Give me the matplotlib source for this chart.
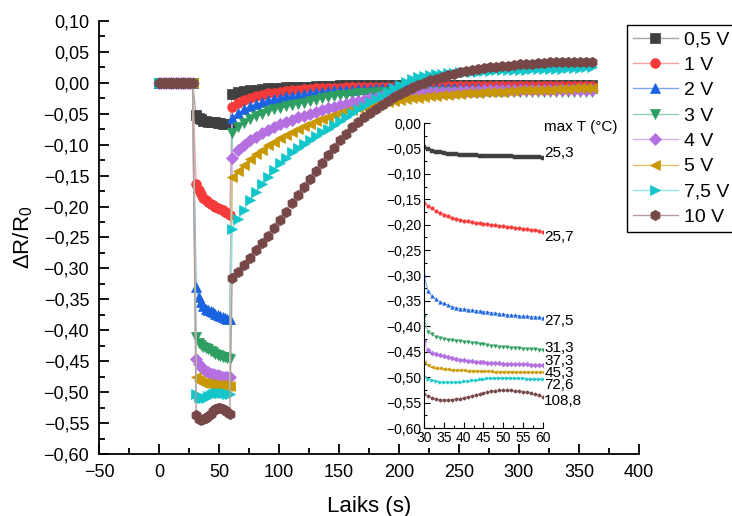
import matplotlib
matplotlib.use("Agg")
import matplotlib.pyplot as plt
from matplotlib.ticker import MultipleLocator, FuncFormatter

plt.rcParams['font.family'] = ['Liberation Sans', 'DejaVu Sans']
plt.rcParams['mathtext.fontset'] = 'custom'
plt.rcParams['mathtext.rm'] = 'Liberation Sans'
plt.rcParams['mathtext.it'] = 'Liberation Sans:italic'

# time grids (s)
base_t = list(range(0, 29, 2))
heat_t = list(range(30, 61))
rec_t = list(range(61, 362, 5))

volt_labels = ['0,5 V', '1 V', '2 V', '3 V', '4 V', '5 V', '7,5 V', '10 V']
temp_labels = ['25,3', '25,7', '27,5', '31,3', '37,3', '45,3', '72,6', '108,8']
temp_label_y = [-0.059, -0.224, -0.390, -0.443, -0.469, -0.492, -0.516, -0.547]

base_v = [0.0] * len(base_t)

heat_05 = [-0.048, -0.052, -0.055, -0.057, -0.058, -0.059, -0.060, -0.061, -0.061, -0.062,
           -0.062, -0.063, -0.063, -0.063, -0.064, -0.064, -0.064, -0.064, -0.065, -0.065,
           -0.065, -0.065, -0.065, -0.066, -0.066, -0.066, -0.066, -0.067, -0.067, -0.067,
           -0.068]
heat_1 = [-0.157, -0.163, -0.168, -0.173, -0.177, -0.180, -0.183, -0.186, -0.188, -0.190,
          -0.192, -0.193, -0.195, -0.196, -0.197, -0.198, -0.199, -0.200, -0.201, -0.202,
          -0.203, -0.204, -0.205, -0.206, -0.207, -0.208, -0.209, -0.210, -0.211, -0.213,
          -0.214]
heat_2 = [-0.299, -0.330, -0.340, -0.347, -0.352, -0.355, -0.358, -0.361, -0.363, -0.365,
          -0.366, -0.367, -0.368, -0.369, -0.370, -0.371, -0.372, -0.373, -0.374, -0.375,
          -0.376, -0.377, -0.378, -0.378, -0.379, -0.380, -0.380, -0.381, -0.381, -0.382,
          -0.383]
heat_3 = [-0.381, -0.411, -0.416, -0.420, -0.422, -0.424, -0.426, -0.427, -0.428, -0.429,
          -0.430, -0.431, -0.432, -0.433, -0.434, -0.435, -0.437, -0.438, -0.439, -0.440,
          -0.441, -0.441, -0.442, -0.443, -0.443, -0.444, -0.444, -0.445, -0.445, -0.446,
          -0.447]
heat_4 = [-0.428, -0.447, -0.452, -0.455, -0.457, -0.459, -0.461, -0.463, -0.464, -0.466,
          -0.467, -0.468, -0.469, -0.470, -0.470, -0.471, -0.472, -0.472, -0.473, -0.473,
          -0.474, -0.474, -0.474, -0.475, -0.475, -0.475, -0.475, -0.476, -0.476, -0.476,
          -0.476]
heat_5 = [-0.470, -0.476, -0.479, -0.481, -0.482, -0.483, -0.484, -0.485, -0.485, -0.486,
          -0.486, -0.487, -0.487, -0.487, -0.488, -0.488, -0.488, -0.488, -0.489, -0.489,
          -0.489, -0.489, -0.489, -0.489, -0.490, -0.490, -0.490, -0.490, -0.490, -0.490,
          -0.490]
heat_75 = [-0.498, -0.503, -0.506, -0.508, -0.509, -0.510, -0.510, -0.510, -0.510, -0.509,
           -0.508, -0.507, -0.506, -0.505, -0.504, -0.503, -0.502, -0.502, -0.501, -0.501,
           -0.501, -0.501, -0.501, -0.502, -0.502, -0.502, -0.503, -0.503, -0.503, -0.503,
           -0.504]
heat_10 = [-0.533, -0.537, -0.541, -0.543, -0.544, -0.545, -0.545, -0.544, -0.543, -0.542,
           -0.541, -0.539, -0.537, -0.535, -0.533, -0.531, -0.529, -0.528, -0.527, -0.526,
           -0.526, -0.526, -0.526, -0.527, -0.528, -0.529, -0.530, -0.532, -0.534, -0.536,
           -0.539]

rec_05 = [-0.018, -0.015, -0.013, -0.012, -0.011, -0.010, -0.009, -0.008, -0.008, -0.007,
          -0.007, -0.006, -0.006, -0.006, -0.005, -0.005, -0.005, -0.005, -0.004, -0.004,
          -0.004, -0.004, -0.004, -0.003, -0.003, -0.003, -0.003, -0.003, -0.003, -0.003,
          -0.003, -0.003, -0.003, -0.003, -0.003, -0.003, -0.003, -0.003, -0.003, -0.003,
          -0.003, -0.003, -0.003, -0.003, -0.003, -0.003, -0.003, -0.003, -0.003, -0.003,
          -0.003, -0.003, -0.003, -0.003, -0.003, -0.003, -0.003, -0.003, -0.003, -0.003,
          -0.003]
rec_1 = [-0.039, -0.032, -0.027, -0.024, -0.021, -0.019, -0.017, -0.016, -0.014, -0.013,
         -0.012, -0.011, -0.010, -0.010, -0.009, -0.009, -0.008, -0.008, -0.008, -0.007,
         -0.007, -0.007, -0.007, -0.006, -0.006, -0.006, -0.006, -0.006, -0.006, -0.006,
         -0.006, -0.005, -0.005, -0.005, -0.005, -0.005, -0.005, -0.005, -0.005, -0.005,
         -0.005, -0.005, -0.005, -0.005, -0.005, -0.005, -0.005, -0.005, -0.005, -0.005,
         -0.005, -0.005, -0.005, -0.005, -0.005, -0.005, -0.005, -0.005, -0.005, -0.005,
         -0.005]
rec_2 = [-0.057, -0.049, -0.043, -0.038, -0.034, -0.031, -0.028, -0.026, -0.024, -0.022,
         -0.021, -0.019, -0.018, -0.016, -0.015, -0.014, -0.013, -0.012, -0.012, -0.011,
         -0.011, -0.010, -0.010, -0.010, -0.009, -0.009, -0.009, -0.009, -0.009, -0.009,
         -0.009, -0.009, -0.009, -0.009, -0.009, -0.009, -0.009, -0.009, -0.009, -0.009,
         -0.009, -0.009, -0.009, -0.009, -0.009, -0.009, -0.009, -0.009, -0.009, -0.009,
         -0.009, -0.009, -0.009, -0.009, -0.009, -0.009, -0.009, -0.009, -0.009, -0.009,
         -0.009]
rec_3 = [-0.081, -0.072, -0.065, -0.059, -0.054, -0.050, -0.046, -0.043, -0.040, -0.038,
         -0.036, -0.034, -0.032, -0.029, -0.027, -0.025, -0.023, -0.022, -0.020, -0.019,
         -0.018, -0.017, -0.016, -0.016, -0.015, -0.015, -0.015, -0.015, -0.015, -0.015,
         -0.015, -0.015, -0.015, -0.015, -0.015, -0.015, -0.015, -0.015, -0.015, -0.015,
         -0.015, -0.015, -0.015, -0.015, -0.015, -0.015, -0.015, -0.015, -0.015, -0.015,
         -0.015, -0.015, -0.015, -0.015, -0.015, -0.015, -0.015, -0.015, -0.015, -0.015,
         -0.015]
rec_4 = [-0.121, -0.109, -0.100, -0.093, -0.087, -0.081, -0.076, -0.071, -0.067, -0.063,
         -0.060, -0.056, -0.053, -0.050, -0.047, -0.044, -0.041, -0.039, -0.036, -0.034,
         -0.031, -0.029, -0.027, -0.025, -0.024, -0.022, -0.021, -0.020, -0.019, -0.018,
         -0.017, -0.016, -0.016, -0.015, -0.015, -0.014, -0.014, -0.014, -0.013, -0.013,
         -0.013, -0.013, -0.012, -0.012, -0.012, -0.012, -0.012, -0.012, -0.011, -0.011,
         -0.011, -0.011, -0.011, -0.011, -0.011, -0.011, -0.011, -0.011, -0.011, -0.011,
         -0.011]
rec_5 = [-0.153, -0.142, -0.132, -0.123, -0.115, -0.108, -0.101, -0.095, -0.089, -0.084,
         -0.079, -0.074, -0.070, -0.066, -0.062, -0.059, -0.056, -0.052, -0.049, -0.046,
         -0.044, -0.041, -0.039, -0.037, -0.035, -0.033, -0.031, -0.029, -0.028, -0.026,
         -0.025, -0.024, -0.023, -0.022, -0.021, -0.020, -0.019, -0.018, -0.018, -0.017,
         -0.016, -0.016, -0.015, -0.015, -0.014, -0.014, -0.013, -0.013, -0.012, -0.012,
         -0.012, -0.011, -0.011, -0.011, -0.010, -0.010, -0.010, -0.009, -0.009, -0.009,
         -0.009]
rec_75 = [-0.236, -0.220, -0.205, -0.190, -0.176, -0.164, -0.152, -0.141, -0.130, -0.121,
          -0.112, -0.105, -0.099, -0.092, -0.086, -0.080, -0.074, -0.068, -0.062, -0.055,
          -0.049, -0.043, -0.037, -0.031, -0.026, -0.021, -0.015, -0.009, -0.003, 0.002,
          0.006, 0.009, 0.011, 0.013, 0.014, 0.015, 0.016, 0.016, 0.017, 0.017,
          0.018, 0.018, 0.019, 0.019, 0.020, 0.020, 0.020, 0.021, 0.021, 0.021,
          0.022, 0.022, 0.022, 0.023, 0.023, 0.023, 0.024, 0.024, 0.024, 0.025,
          0.025]
rec_10 = [-0.316, -0.306, -0.295, -0.283, -0.271, -0.259, -0.247, -0.234, -0.221, -0.208,
          -0.195, -0.182, -0.169, -0.156, -0.143, -0.130, -0.117, -0.105, -0.093, -0.082,
          -0.072, -0.063, -0.055, -0.048, -0.042, -0.035, -0.029, -0.023, -0.018, -0.013,
          -0.008, -0.004, 0.000, 0.004, 0.007, 0.010, 0.012, 0.015, 0.017, 0.019,
          0.021, 0.022, 0.024, 0.025, 0.026, 0.027, 0.028, 0.029, 0.030, 0.030,
          0.031, 0.032, 0.032, 0.033, 0.033, 0.033, 0.034, 0.034, 0.034, 0.034,
          0.034]

heat_all = [heat_05, heat_1, heat_2, heat_3, heat_4, heat_5, heat_75, heat_10]
rec_all = [rec_05, rec_1, rec_2, rec_3, rec_4, rec_5, rec_75, rec_10]

dark = ['#404040', '#f53a3a', '#1a62e0', '#2e9f62', '#b46fe0', '#c99700', '#12c6c9', '#774848']
light = ['#a8a8a8', '#f7a3a3', '#7ea6ef', '#93d0b0', '#d6b0f0', '#e2c468', '#8ee6e8', '#b99a9a']
markers = ['s', 'o', '^', 'v', 'D', '<', '>', 'h']
msizes = [6.5, 7, 7.5, 7.5, 6, 7.5, 7.5, 7.5]


def comma_fmt(decimals):
    def f(v, pos):
        if abs(v) < 1e-9:
            v = 0.0
        return f"{v:.{decimals}f}".replace('.', ',').replace('-', '\u2212')
    return FuncFormatter(f)


fig = plt.figure(figsize=(7.32, 5.16), dpi=100)
ax = fig.add_axes([0.1352, 0.1202, 0.7377, 0.8391])

handles = []
for i in range(8):
    # main plot shows every second heating sample, skipping the t=30 transient
    t = base_t + heat_t[1::2] + rec_t
    v = base_v + heat_all[i][1::2] + rec_all[i]
    ln, = ax.plot(t, v, color=light[i], lw=1.0, marker=markers[i], ms=msizes[i],
                  mfc=dark[i], mec=dark[i], mew=0.5, label=volt_labels[i])
    handles.append(ln)

ax.set_xlim(-50, 400)
ax.set_ylim(-0.60, 0.10)
ax.xaxis.set_major_locator(MultipleLocator(50))
ax.xaxis.set_minor_locator(MultipleLocator(25))
ax.yaxis.set_major_locator(MultipleLocator(0.05))
ax.yaxis.set_minor_locator(MultipleLocator(0.025))
ax.xaxis.set_major_formatter(comma_fmt(0))
ax.yaxis.set_major_formatter(comma_fmt(2))
ax.tick_params(which='both', direction='in', width=1.3, labelsize=13, pad=7)
ax.tick_params(which='major', length=7)
ax.tick_params(which='minor', length=4)
for s in ['top', 'right']:
    ax.spines[s].set_visible(False)
for s in ['left', 'bottom']:
    ax.spines[s].set_linewidth(1.3)
ax.set_xlabel('Laiks (s)', fontsize=16, labelpad=11)
ax.set_ylabel('\u0394R/R$_0$', fontsize=16, labelpad=6)

leg = fig.legend(handles=handles, loc='upper left', bbox_to_anchor=(627 / 732, 1 - 25 / 516),
                 bbox_transform=fig.transFigure, fontsize=14, frameon=True, fancybox=False,
                 framealpha=1, borderaxespad=0, borderpad=0.3, handlelength=2.3,
                 handletextpad=0.35, labelspacing=0.4)
leg.get_frame().set_edgecolor('black')
leg.get_frame().set_linewidth(1.0)

# inset: heating segment
ax_in = fig.add_axes([0.5792, 0.1705, 0.1626, 0.5911])
ax_in.patch.set_alpha(0)
for i in range(8):
    ax_in.plot(heat_t, heat_all[i], color=light[i], lw=0.8, marker=markers[i], ms=2.6,
               mfc=dark[i], mec=dark[i], mew=0.3)
ax_in.set_xlim(30, 60)
ax_in.set_ylim(-0.60, 0.0)
ax_in.xaxis.set_major_locator(MultipleLocator(5))
ax_in.xaxis.set_minor_locator(MultipleLocator(2.5))
ax_in.yaxis.set_major_locator(MultipleLocator(0.05))
ax_in.yaxis.set_minor_locator(MultipleLocator(0.025))
ax_in.xaxis.set_major_formatter(comma_fmt(0))
ax_in.yaxis.set_major_formatter(comma_fmt(2))
ax_in.tick_params(which='both', direction='in', width=0.8, labelsize=10, pad=2)
ax_in.tick_params(which='major', length=4)
ax_in.tick_params(which='minor', length=2)
for s in ['top', 'right']:
    ax_in.spines[s].set_visible(False)
for s in ['left', 'bottom']:
    ax_in.spines[s].set_linewidth(0.8)

for lab, yv in zip(temp_labels, temp_label_y):
    ax_in.text(60.3, yv, lab, fontsize=11, ha='left', va='center', clip_on=False)
ax_in.text(60.3, -0.008, 'max T (\u00b0C)', fontsize=11, ha='left', va='center', clip_on=False)

fig.savefig('out.png', dpi=100)
